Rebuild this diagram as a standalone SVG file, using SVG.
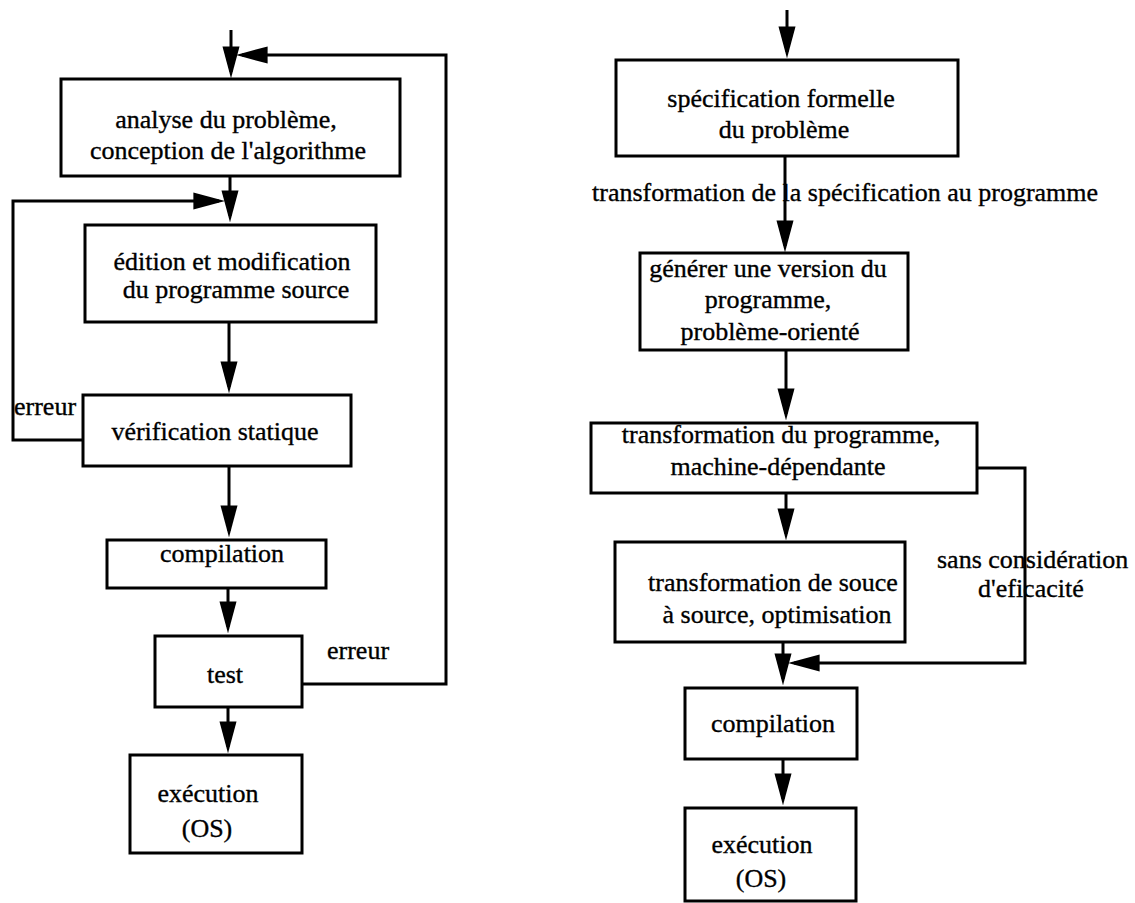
<svg xmlns="http://www.w3.org/2000/svg" width="1135" height="903" viewBox="0 0 1135 903">
  <style>
    .box { fill: #ffffff; stroke: #000000; stroke-width: 3; }
    .lbl { font-family: 'Liberation Serif', 'DejaVu Serif', serif; font-size: 26px; fill: #000000; stroke: #000000; stroke-width: 0.35; }
    .c { text-anchor: middle; }
    .wire { fill: none; stroke: #000000; stroke-width: 3; }
  </style>
  <defs>
    <marker id="head" markerUnits="userSpaceOnUse" markerWidth="32" markerHeight="18" viewBox="0 0 30 16" refX="24" refY="8" orient="auto">
      <path d="M0,0 L30,8 L0,16 z" fill="#000000"/>
    </marker>
  </defs>

  <rect width="1135" height="903" fill="#ffffff"/>

  <!-- Left flow: classic development cycle -->
  <g id="analyse">
    <rect class="box" x="61" y="79" width="339" height="97"/>
    <text class="lbl c" x="226" y="128">analyse du problème,</text>
    <text class="lbl c" x="228" y="159">conception de l'algorithme</text>
  </g>
  <g id="edition">
    <rect class="box" x="85" y="225" width="291" height="97"/>
    <text class="lbl c" x="232" y="270">édition et modification</text>
    <text class="lbl c" x="236" y="298">du programme source</text>
  </g>
  <g id="verification">
    <rect class="box" x="83" y="395" width="268" height="71"/>
    <text class="lbl c" x="215" y="440">vérification statique</text>
  </g>
  <g id="compilation-left">
    <rect class="box" x="107" y="540" width="219" height="48"/>
    <text class="lbl c" x="222" y="562">compilation</text>
  </g>
  <g id="test">
    <rect class="box" x="155" y="636" width="147" height="71"/>
    <text class="lbl c" x="225" y="683">test</text>
  </g>
  <g id="execution-left">
    <rect class="box" x="130" y="755" width="172" height="98"/>
    <text class="lbl c" x="208" y="802">exécution</text>
    <text class="lbl c" x="207" y="837">(OS)</text>
  </g>

  <!-- Right flow: transformational development -->
  <g id="specification">
    <rect class="box" x="616" y="60" width="342" height="96"/>
    <text class="lbl c" x="781" y="107">spécification formelle</text>
    <text class="lbl c" x="784" y="138">du problème</text>
  </g>
  <g id="generation">
    <rect class="box" x="640" y="253" width="268" height="97"/>
    <text class="lbl c" x="768" y="277">générer une version du</text>
    <text class="lbl c" x="768" y="308">programme,</text>
    <text class="lbl c" x="770" y="340">problème-orienté</text>
  </g>
  <g id="transformation">
    <rect class="box" x="591" y="423" width="386" height="70"/>
    <text class="lbl c" x="781" y="443">transformation du programme,</text>
    <text class="lbl c" x="778" y="475">machine-dépendante</text>
  </g>
  <g id="optimisation">
    <rect class="box" x="615" y="542" width="290" height="100"/>
    <text class="lbl c" x="773" y="591">transformation de souce</text>
    <text class="lbl c" x="777" y="623">à source, optimisation</text>
  </g>
  <g id="compilation-right">
    <rect class="box" x="685" y="688" width="172" height="71"/>
    <text class="lbl c" x="773" y="732">compilation</text>
  </g>
  <g id="execution-right">
    <rect class="box" x="685" y="808" width="171" height="93"/>
    <text class="lbl c" x="762" y="853">exécution</text>
    <text class="lbl c" x="761" y="887">(OS)</text>
  </g>

  <!-- Edge labels (drawn beneath the wires that cross them) -->
  <g id="edge-labels">
    <text class="lbl" x="14" y="415">erreur</text>
    <text class="lbl" x="327" y="659">erreur</text>
    <text class="lbl" x="592" y="201">transformation de la spécification au programme</text>
    <text class="lbl" x="937" y="568">sans considération</text>
    <text class="lbl" x="978" y="597">d'eficacité</text>
  </g>

  <g id="connectors">
    <!-- left flow -->
    <path class="wire" d="M231,30 V72" marker-end="url(#head)"/>
    <path class="wire" d="M302,684 H446 V55 H242" marker-end="url(#head)"/>
    <path class="wire" d="M230,176 V216" marker-end="url(#head)"/>
    <path class="wire" d="M83,440 H13 V201 H219" marker-end="url(#head)"/>
    <path class="wire" d="M229,322 V387" marker-end="url(#head)"/>
    <path class="wire" d="M229,466 V531" marker-end="url(#head)"/>
    <path class="wire" d="M228,588 V627" marker-end="url(#head)"/>
    <path class="wire" d="M228,707 V747" marker-end="url(#head)"/>
    <!-- right flow -->
    <path class="wire" d="M787,10 V52" marker-end="url(#head)"/>
    <path class="wire" d="M785,156 V246" marker-end="url(#head)"/>
    <path class="wire" d="M786,350 V414" marker-end="url(#head)"/>
    <path class="wire" d="M786,493 V534" marker-end="url(#head)"/>
    <path class="wire" d="M977,468 H1025 V663 H794" marker-end="url(#head)"/>
    <path class="wire" d="M783,642 V679" marker-end="url(#head)"/>
    <path class="wire" d="M783,759 V799" marker-end="url(#head)"/>
  </g>
</svg>
